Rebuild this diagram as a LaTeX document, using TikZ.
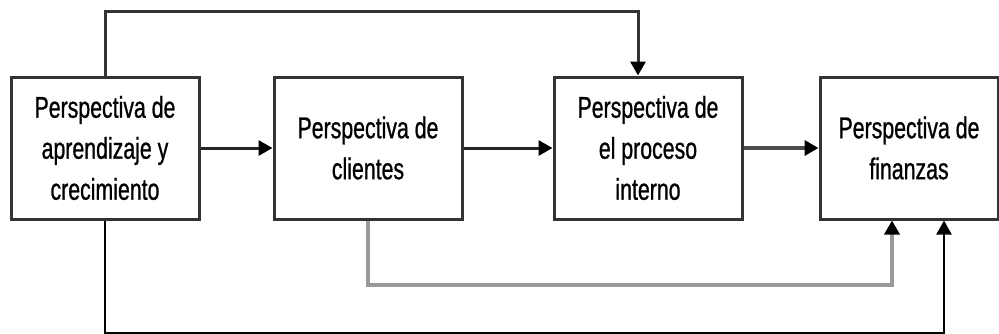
\documentclass[tikz,border=0pt]{standalone}
\usepackage{fontspec}
\setmainfont{Liberation Sans}[FakeStretch=0.71, FakeBold=0.8]
\usepackage{tikz}
\usetikzlibrary{arrows.meta}

\begin{document}
\begin{tikzpicture}[x=1pt, y=-1pt, line width=3pt,
  box/.style={draw=black!80, fill=white, minimum width=188pt, minimum height=142pt,
              inner sep=0pt, align=center, font=\fontsize{30}{41}\selectfont},
  arr/.style={-{Triangle[length=14pt, width=15pt, color=black]}}]

\useasboundingbox (0, 0) rectangle (999, 333);

% draw boxes
\node[box] (learn) at (105, 148) {Perspectiva de\\aprendizaje y\\crecimiento};
\node[box] (clients) at (368, 148) {Perspectiva de\\clientes};
\node[box] (process) at (648, 148) {Perspectiva de\\el proceso\\interno};
\node[box, minimum width=178pt] (finance) at (909, 148) {Perspectiva de\\finanzas};

% draw arrows between neighbouring boxes
\draw[arr, color=black!85] (learn.east) -- (clients.west);
\draw[arr, color=black!85] (clients.east) -- (process.west);
\draw[arr, color=black!70, line width=4pt] (process.east) -- (finance.west);

% draw loops round the boxes
\draw[arr, color=black!80] (learn.north) -- ++(0, -64) -| ([xshift=-10pt]process.north);
\draw[arr, color=black!40, line width=4pt] (clients.south) -- ++(0, 64) -| ([xshift=-17pt]finance.south);
\draw[arr, color=black, line width=2pt] (learn.south) -- ++(0, 112) -| ([xshift=35pt]finance.south);

\end{tikzpicture}
\end{document}
